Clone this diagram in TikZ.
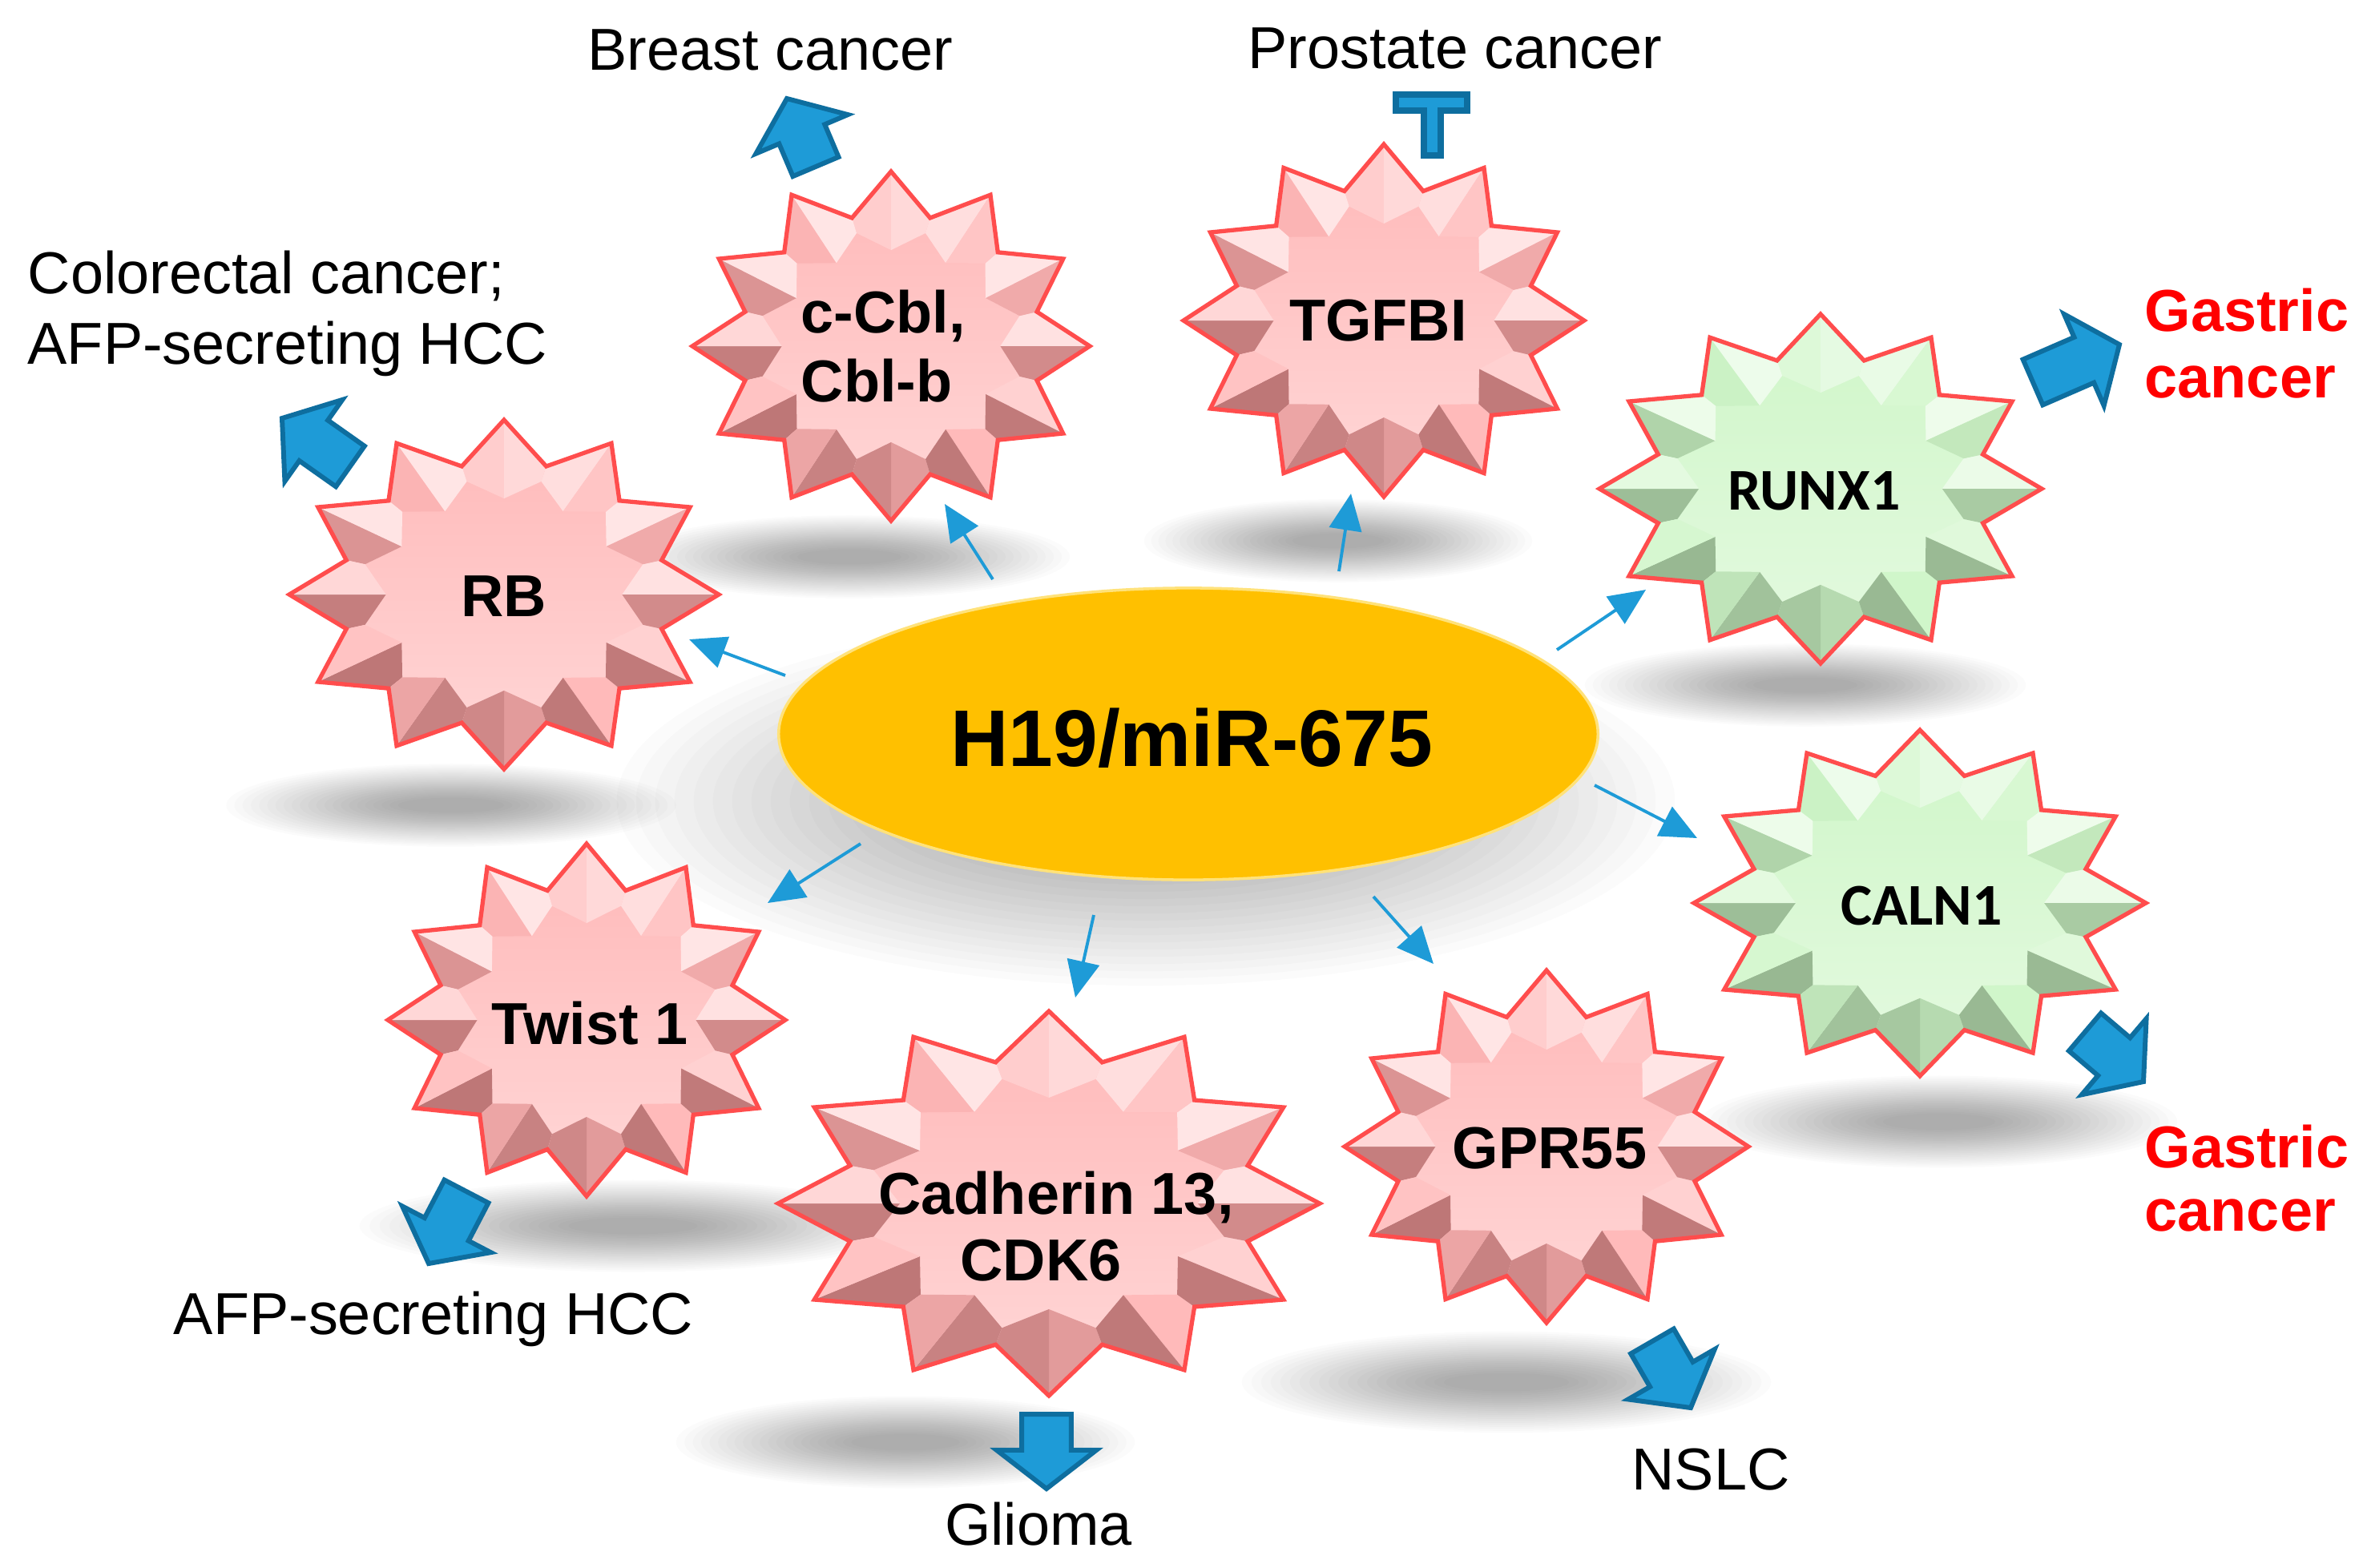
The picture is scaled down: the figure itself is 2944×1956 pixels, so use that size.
\documentclass[tikz,border=0pt]{standalone}
\usepackage{fontspec}
\setmainfont{Liberation Sans}
\newfontfamily\carlito{Carlito}
\usetikzlibrary{calc,arrows.meta,shapes.geometric}

\definecolor{pinkbase}{HTML}{FFB8B8}
\definecolor{pinkdark}{HTML}{7A3434}
\definecolor{greenbase}{HTML}{CFF6C8}
\definecolor{greendark}{HTML}{5E775A}
\definecolor{starline}{HTML}{FF4D4D}
\definecolor{arrowblue}{HTML}{1E9BD7}
\definecolor{arrowdark}{HTML}{0E6E9F}
\definecolor{gold}{HTML}{FFC000}
\definecolor{goldrim}{HTML}{FFE27A}
\definecolor{gastric}{HTML}{FF0000}

\newcommand\facetcol[3]{%
  \pgfmathtruncatemacro\fcs{(#1)>0}%
  \ifnum\fcs=1 \pgfmathtruncatemacro\fcp{abs(#1)*65}\colorlet{fc}{white!\fcp!#2}%
  \else\pgfmathtruncatemacro\fcp{abs(#1)*50}\colorlet{fc}{#3!\fcp!#2}\fi}

\newcommand\bevelstar[6]{% cx, cy, rx, ry, base, dark
  \shade[top color=#5, bottom color=white!45!#5] plot[samples at={0,...,23}, variable=\k]
    ({#1+#3*(1-0.24*mod(\k,2))*cos(90+15*\k)},{#2-#4*(1-0.24*mod(\k,2))*sin(90+15*\k)}) -- cycle;
  \foreach \i in {0,...,11}{
    \pgfmathsetmacro\t{90+30*\i}
    \coordinate (T) at ({#1+#3*cos(\t)},{#2-#4*sin(\t)});
    \coordinate (Vp) at ({#1+0.76*#3*cos(\t+15)},{#2-0.76*#4*sin(\t+15)});
    \coordinate (Vm) at ({#1+0.76*#3*cos(\t-15)},{#2-0.76*#4*sin(\t-15)});
    \coordinate (Wp) at ({#1+0.67*#3*cos(\t+15)},{#2-0.67*#4*sin(\t+15)});
    \coordinate (Wm) at ({#1+0.67*#3*cos(\t-15)},{#2-0.67*#4*sin(\t-15)});
    \coordinate (C) at ({#1+0.55*#3*cos(\t)},{#2-0.55*#4*sin(\t)});
    \facetcol{cos(\t+53.5-80)}{#5}{#6}
    \fill[fc] (T) -- (Vp) -- (Wp) -- (C) -- cycle;
    \facetcol{cos(\t-53.5-80)}{#5}{#6}
    \fill[fc] (T) -- (Vm) -- (Wm) -- (C) -- cycle;
  }
  \draw[starline, line width=1.5pt, line join=miter] plot[samples at={0,...,23}, variable=\k]
    ({#1+#3*(1-0.24*mod(\k,2))*cos(90+15*\k)},{#2-#4*(1-0.24*mod(\k,2))*sin(90+15*\k)}) -- cycle;
}

\newcommand\softshadow[4]{%
  \foreach \k in {0,...,21}{
    \fill[black, opacity=0.016] (#1,#2) ellipse [x radius={#3*(1.1-0.04*\k)*0.2845pt}, y radius={#4*(1.15-0.045*\k)*0.2845pt}];
  }}

\newcommand\blockarrow[3]{% prefix, tail, tip
  \coordinate (#1n) at ($(#3)!13.7pt!(#2)$);
  \filldraw[block arrow] ($(#2)!8.8pt!90:(#3)$) -- ($(#1n)!8.8pt!-90:(#2)$) -- ($(#1n)!17.7pt!-90:(#2)$)
    -- (#3) -- ($(#1n)!17.7pt!90:(#2)$) -- ($(#1n)!8.8pt!90:(#2)$) -- ($(#2)!8.8pt!-90:(#3)$) -- cycle;
}

\begin{document}
\begin{tikzpicture}[x=0.01cm, y=-0.01cm,
  lbl/.style={font=\fontsize{21}{25}\selectfont, inner sep=0pt, text depth=0pt},
  red lbl/.style={font=\fontsize{21}{25}\selectfont\bfseries, inner sep=0pt, text depth=0pt, text=gastric, anchor=west},
  star txt/.style={font=\fontsize{21}{25}\selectfont\bfseries, inner sep=0pt, text depth=0pt},
  star txt c/.style={font=\carlito\fontsize{21}{25}\selectfont\bfseries, inner sep=0pt, text depth=0pt},
  thin arrow/.style={draw=arrowblue, line width=1.1pt, -{Triangle[length=13pt,width=11.5pt]}},
  block arrow/.style={fill=arrowblue, draw=arrowdark, line width=1.7pt, line join=miter},
]
\fill[white] (0,0) rectangle (2944,1956);
\useasboundingbox (0,0) rectangle (2944,1956);

% shadows
\softshadow{1060}{695}{250}{45}
\softshadow{1670}{675}{220}{45}
\softshadow{563}{1005}{255}{45}
\softshadow{2253}{855}{250}{45}
\softshadow{1430}{1000}{600}{200}
\softshadow{790}{1530}{310}{50}
\softshadow{1130}{1800}{260}{50}
\softshadow{1880}{1725}{300}{55}
\softshadow{2420}{1400}{270}{50}

% thin connector end points
\coordinate (a1s) at (1239,723); \coordinate (a1e) at (1179,629);
\coordinate (a2s) at (1671,713); \coordinate (a2e) at (1686,616);
\coordinate (a3s) at (980,843);  \coordinate (a3e) at (860,798);
\coordinate (a4s) at (1943,811); \coordinate (a4e) at (2054,736);
\coordinate (a5s) at (1990,980); \coordinate (a5e) at (2118,1046);
\coordinate (a6s) at (1074,1053); \coordinate (a6e) at (958,1127);
\coordinate (a7s) at (1365,1142); \coordinate (a7e) at (1342,1245);
\coordinate (a8s) at (1714,1119); \coordinate (a8e) at (1789,1203);

% central ellipse
\node[ellipse, minimum width=10.22cm, minimum height=3.64cm, inner sep=0pt, fill=gold, draw=goldrim, line width=1pt] (h19) at (1483,916) {};
\node[star txt, font=\fontsize{28.5}{32}\selectfont\bfseries] (h19txt) at (1487,920) {H19/miR-675};

\foreach \s/\e in {a1s/a1e,a2s/a2e,a3s/a3e,a4s/a4e,a5s/a5e,a6s/a6e,a7s/a7e,a8s/a8e}
  \draw[thin arrow] (\s) -- (\e);

% stars
\bevelstar{1112}{432}{248}{218}{pinkbase}{pinkdark}
\bevelstar{1727}{400}{250}{220}{pinkbase}{pinkdark}
\bevelstar{629}{742}{268}{218}{pinkbase}{pinkdark}
\bevelstar{2272}{610}{276}{218}{greenbase}{greendark}
\bevelstar{2396}{1127}{282}{216}{greenbase}{greendark}
\bevelstar{732}{1273}{248}{220}{pinkbase}{pinkdark}
\bevelstar{1309}{1502}{338}{240}{pinkbase}{pinkdark}
\bevelstar{1930}{1431}{252}{220}{pinkbase}{pinkdark}

% star texts
\node[star txt, anchor=west] (cbl1) at (999,389) {c-Cbl,};
\node[star txt, anchor=west] (cbl2) at (999,475) {Cbl-b};
\node[star txt] (tgfbi) at (1720,400) {TGFBI};
\node[star txt] (rb) at (629,744) {RB};
\node[star txt c] (runx1) at (2264,612) {RUNX1};
\node[star txt c] (caln1) at (2398,1130) {CALN1};
\node[star txt] (twist) at (736,1277) {Twist 1};
\node[star txt] (cdh) at (1318,1489) {Cadherin 13,};
\node[star txt] (cdk) at (1299,1573) {CDK6};
\node[star txt] (gpr) at (1934,1433) {GPR55};

% block arrows
\coordinate (brT) at (1018,208);  \coordinate (brP) at (982,123);
\coordinate (crT) at (437,582);   \coordinate (crP) at (352,522);
\coordinate (ruT) at (2537,477);  \coordinate (ruP) at (2645,430);
\coordinate (caT) at (2602,1288); \coordinate (caP) at (2675,1350);
\coordinate (twT) at (582,1487);  \coordinate (twP) at (535,1577);
\coordinate (glT) at (1306,1765); \coordinate (glP) at (1306,1858);
\coordinate (nsT) at (2062,1674); \coordinate (nsP) at (2110,1757);
\blockarrow{br}{brT}{brP}
\blockarrow{cr}{crT}{crP}
\blockarrow{ru}{ruT}{ruP}
\blockarrow{ca}{caT}{caP}
\blockarrow{tw}{twT}{twP}
\blockarrow{gl}{glT}{glP}
\blockarrow{ns}{nsT}{nsP}

% T-bar (inhibition)
\filldraw[block arrow, line width=2pt] (1742,118) -- (1831,118) -- (1831,138) -- (1798,138) -- (1798,194)
  -- (1777,194) -- (1777,138) -- (1742,138) -- cycle;

% labels
\node[lbl] (breast) at (961,62) {Breast cancer};
\node[lbl] (prostate) at (1816,60) {Prostate cancer};
\node[lbl, anchor=west] (colo1) at (34,340) {Colorectal cancer;};
\node[lbl, anchor=west] (colo2) at (34,428) {AFP-secreting HCC};
\node[red lbl] (gas1a) at (2676,387) {Gastric};
\node[red lbl] (gas1b) at (2676,477) {cancer};
\node[red lbl] (gas2a) at (2676,1431) {Gastric};
\node[red lbl] (gas2b) at (2676,1517) {cancer};
\node[lbl] (afp) at (541,1639) {AFP-secreting HCC};
\node[lbl] (glioma) at (1296,1902) {Glioma};
\node[lbl] (nslc) at (2135,1834) {NSLC};
\end{tikzpicture}
\end{document}
